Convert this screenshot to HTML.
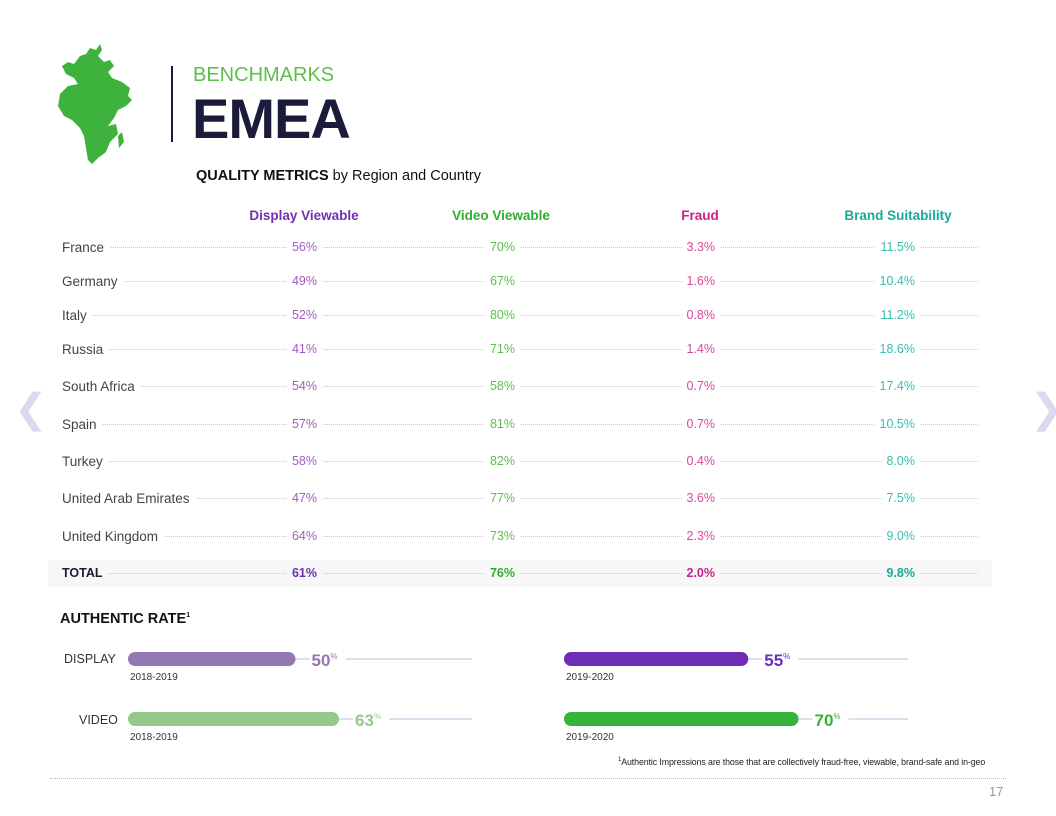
<!DOCTYPE html>
<html><head><meta charset="utf-8">
<style>
body{margin:0;width:1056px;height:816px;background:#fff;font-family:"Liberation Sans","Noto Sans CJK SC",sans-serif;position:relative;overflow:hidden}
.abs{position:absolute}
.row{position:absolute;left:62px;width:916px;height:20px}
.lead{position:absolute;left:0;right:0;top:10px;border-top:1px dotted #c8c8c8}
.lbl{position:absolute;left:0;top:3px;font-size:13.5px;color:#444;background:#fff;padding-right:6px}
.val{position:absolute;top:3px;font-size:12.5px;background:#fff;padding:0 5px;text-align:right}
.total .lbl,.total .val{background:#f7f7f7}
</style></head><body>
<svg class="abs" style="left:58px;top:44px" width="80" height="125">
<path fill="#3db33d" d="M4,22 L10,18 L16,20 L22,12 L28,10 L32,4 L38,6 L42,0 L44,6 L40,12 L46,18 L52,16 L56,22 L50,28 L54,34 L64,38 L72,44 L70,52 L74,56 L68,62 L60,66 L56,74 L50,82 L58,80 L60,90 L52,98 L48,108 L40,114 L34,120 L30,116 L28,104 L26,92 L22,84 L14,76 L6,72 L0,62 L2,50 L10,42 L20,40 L16,34 L8,30 Z"/>
<path fill="#3db33d" d="M60,92 L64,88 L66,98 L61,104 Z"/>
</svg>
<div class="abs" style="left:171px;top:66px;width:2px;height:76px;background:#1b1b3a"></div>
<div class="abs" style="left:193px;top:64px;font-size:20px;color:#5cbf4a">BENCHMARKS</div>
<div class="abs" style="left:192px;top:86px;font-size:56px;font-weight:bold;color:#1b1b3a;letter-spacing:-1px">EMEA</div>
<div class="abs" style="left:196px;top:168px;font-size:14.5px;color:#111"><b>QUALITY METRICS</b> by Region and Country</div>

<div class="abs" style="left:48px;top:560px;width:944px;height:27px;background:#f7f7f7"></div>
<div id="table"></div>

<div class="abs" style="left:14px;top:386px;font-size:40px;color:#dcd8f0">&#x276E;</div>
<div class="abs" style="left:1030px;top:386px;font-size:40px;color:#dcd8f0">&#x276F;</div>

<div class="abs" style="left:60px;top:611px;font-size:14.5px;font-weight:bold;color:#111">AUTHENTIC RATE<sup style="font-size:7px">1</sup></div>
<div class="abs" style="left:64px;top:652px;font-size:12.5px;color:#333">DISPLAY</div>
<div class="abs" style="left:79px;top:713px;font-size:12.5px;color:#333">VIDEO</div>
<svg id="bars" class="abs" style="left:0;top:0" width="1056" height="816"></svg>
<div class="abs" style="left:618px;top:757px;font-size:8.8px;color:#222;letter-spacing:-0.1px"><sup style="font-size:6px">1</sup>Authentic Impressions are those that are collectively fraud-free, viewable, brand-safe and in-geo</div>
<div class="abs" style="left:50px;top:778px;width:956px;border-top:1px dotted #bbb"></div>
<div class="abs" style="left:989px;top:784px;font-size:13px;color:#999">17</div>

<script>
const countries=["France","Germany","Italy","Russia","South Africa","Spain","Turkey","United Arab Emirates","United Kingdom","TOTAL"];
const displayViewable=["56%","49%","52%","41%","54%","57%","58%","47%","64%","61%"];
const videoViewable=["70%","67%","80%","71%","58%","81%","82%","77%","73%","76%"];
const fraud=["3.3%","1.6%","0.8%","1.4%","0.7%","0.7%","0.4%","3.6%","2.3%","2.0%"];
const brandSuitability=["11.5%","10.4%","11.2%","18.6%","17.4%","10.5%","8.0%","7.5%","9.0%","9.8%"];
const headers=["Display Viewable","Video Viewable","Fraud","Brand Suitability"];
const authLabels=["DISPLAY","DISPLAY","VIDEO","VIDEO"];
const authPeriods=["2018-2019","2019-2020","2018-2019","2019-2020"];
const authValues=[50,55,63,70];

const rowY=[237,271,305,339,376,414,451,488,526,563];
const colRight=[317,515,715,915];
const hdrCenter=[304,501,700,898];
const colors=["#a05cc4","#5cbf4a","#d9489c","#35bfae"];
const totalColors=["#7030b0","#2fae2f","#cc1f8a","#1aa999"];
const cols=[displayViewable,videoViewable,fraud,brandSuitability];
const T=document.getElementById('table');
headers.forEach((h,i)=>{
  const d=document.createElement('div');
  
  
  d.className='abs';
  d.style.cssText=`left:${hdrCenter[i]-100}px;width:200px;text-align:center;top:208px;font-size:13.5px;font-weight:bold;color:${totalColors[i]}`;
  d.textContent=h;T.appendChild(d);
});
countries.forEach((c,r)=>{
  const row=document.createElement('div');
  
  
  const tot=r===countries.length-1;
  row.className='row'+(tot?' total':'');
  row.style.top=rowY[r]+'px';
  row.innerHTML='<div class="lead"></div>';
  const l=document.createElement('div');
  
  
  l.className='lbl';l.textContent=c;
  if(tot){l.style.fontWeight='bold';l.style.fontSize='12.5px';l.style.color='#1b1b3a';}
  row.appendChild(l);
  cols.forEach((arr,i)=>{
    const v=document.createElement('div');
    
    
    v.className='val';v.textContent=arr[r];
    v.style.right=(978-colRight[i]-5)+'px';
    v.style.color=tot?totalColors[i]:colors[i];
    if(tot)v.style.fontWeight='bold';
    row.appendChild(v);
  });
  T.appendChild(row);
});

const S=document.getElementById('bars');const NS='http://www.w3.org/2000/svg';
const startX=[128,564,128,564], barY=[659,659,719,719], trackW=344, scale=3.35;
const barColors=["#9478b4","#6e2db5","#95c98b","#36b33a"];
function mk(t,a){const e=document.createElementNS(NS,t);for(const k in a)e.setAttribute(k,a[k]);S.appendChild(e);return e;}
authValues.forEach((v,i)=>{
  const x0=startX[i],y=barY[i],w=v*scale;
  const ln=mk('line',{x1:x0+w,x2:x0+trackW,y1:y,y2:y,stroke:'#d8d0ea','stroke-width':1.5});
  
  
  const bg=mk('rect',{x:x0+w+14,y:y-9,width:36,height:18,fill:'#fff'});
  
  
  const b=mk('rect',{x:x0,y:y-7,width:w,height:14,rx:7,fill:barColors[i]});
  
  
  const t=mk('text',{x:x0+w+16,y:y+7,'font-size':17,'font-weight':'bold',fill:barColors[i],'font-family':'Liberation Sans'});
  
  
  t.innerHTML=v+'<tspan font-size="8" font-weight="normal" dy="-7">%</tspan>';
  const p=mk('text',{x:x0+2,y:y+21,'font-size':10,fill:'#333','font-family':'Liberation Sans'});
  
  
  p.textContent=authPeriods[i];
});
</script>
</body></html>
